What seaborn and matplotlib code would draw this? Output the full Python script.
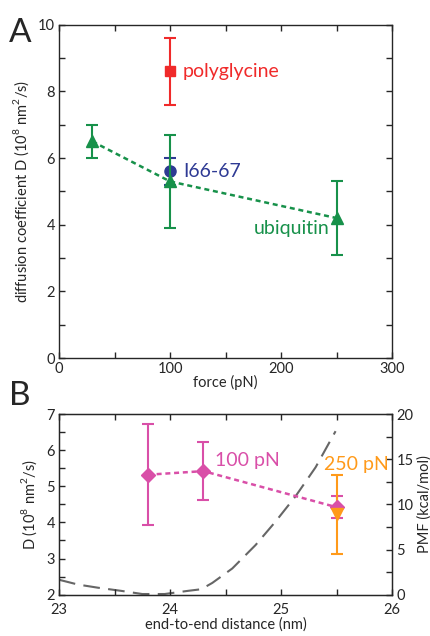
import matplotlib
matplotlib.use("Agg")
import matplotlib.pyplot as plt
import seaborn as sns
import pandas as pd
from matplotlib.ticker import MultipleLocator

# panel A data
ubi_force = [30, 100, 250]
ubi_D = [6.5, 5.3, 4.2]
ubi_err = [0.5, 1.4, 1.1]
gly_force = [100]
gly_D = [8.6]
gly_err = [1.0]
i66_force = [100]
i66_D = [5.6]
i66_err = [0.4]

# panel B data
d100_dist = [23.8, 24.3, 25.5]
d100_D = [5.32, 5.42, 4.42]
d100_err = [1.4, 0.8, 0.3]
d250_dist = [25.5]
d250_D = [4.22]
d250_err = [1.1]
pmf_dist = [23.0, 23.17, 23.35, 23.56, 23.75, 23.95, 24.16, 24.28, 24.38,
            24.56, 24.77, 24.95, 25.13, 25.31, 25.49]
pmf_val = [1.65, 1.12, 0.77, 0.42, 0.07, 0.07, 0.42, 0.6, 1.3,
           2.9, 5.5, 8.1, 10.9, 14.1, 18.1]

sns.set_style("ticks")
plt.rcParams['font.family'] = ['Lato', 'DejaVu Sans']
plt.rcParams['mathtext.fontset'] = 'custom'
plt.rcParams['mathtext.rm'] = 'Lato'

green = '#17914a'
red = '#f02a2a'
blue = '#2e3a94'
pink = '#d94fa8'
orange = '#ff9a1a'
fs = 10.5

fig = plt.figure(figsize=(4.31, 6.36), dpi=100)
ax1 = fig.add_axes([0.137, 0.437, 0.773, 0.524])
ax2 = fig.add_axes([0.137, 0.065, 0.773, 0.284])

# ---- panel A ----
ubi = pd.DataFrame({'force': ubi_force, 'D': ubi_D})
sns.lineplot(data=ubi, x='force', y='D', ax=ax1, color=green, lw=1.8,
             linestyle=(0, (2, 1.5)))
ax1.errorbar(ubi_force, ubi_D, yerr=ubi_err, fmt='^', color=green, ms=8,
             capsize=4, elinewidth=1.5, capthick=1.5)
ax1.errorbar(gly_force, gly_D, yerr=gly_err, fmt='s', color=red, ms=7,
             capsize=4, elinewidth=1.5, capthick=1.5)
ax1.errorbar(i66_force, i66_D, yerr=i66_err, fmt='o', color=blue, ms=8,
             capsize=4, elinewidth=1.5, capthick=1.5, zorder=1)
ax1.text(111, 8.6, 'polyglycine', color=red, fontsize=14, va='center')
ax1.text(112, 5.6, 'I66-67', color=blue, fontsize=14, va='center')
ax1.text(175, 3.9, 'ubiquitin', color=green, fontsize=14, va='center')
ax1.set_xlim(0, 300)
ax1.set_ylim(0, 10)
ax1.xaxis.set_major_locator(MultipleLocator(100))
ax1.xaxis.set_minor_locator(MultipleLocator(50))
ax1.yaxis.set_major_locator(MultipleLocator(2))
ax1.yaxis.set_minor_locator(MultipleLocator(1))
ax1.set_xlabel('force (pN)', fontsize=fs, labelpad=-1)
ax1.set_ylabel('diffusion coefficient D (10$^8$ nm$^2$/s)', fontsize=fs, labelpad=5)
for s in ax1.spines.values():
    s.set_linewidth(1.0)
ax1.tick_params(which='both', direction='in', top=True, right=True,
                length=4, width=1, labelsize=fs, pad=3)
fig.text(0.02, 0.948, 'A', fontsize=24, va='center')

# ---- panel B ----
axr = ax2.twinx()
pmf = pd.DataFrame({'dist': pmf_dist, 'pmf': pmf_val})
sns.lineplot(data=pmf, x='dist', y='pmf', ax=axr, color='#666666', lw=1.5,
             linestyle=(0, (8, 4)))
axr.set_ylim(0, 20)
axr.yaxis.set_major_locator(MultipleLocator(5))
axr.yaxis.set_minor_locator(MultipleLocator(2.5))
axr.set_ylabel('PMF (kcal/mol)', fontsize=fs, labelpad=3)
axr.tick_params(which='both', direction='in', length=4, width=1,
                labelsize=fs, pad=3)
ax2.set_zorder(axr.get_zorder() + 1)
ax2.patch.set_visible(False)

d100 = pd.DataFrame({'dist': d100_dist, 'D': d100_D})
sns.lineplot(data=d100, x='dist', y='D', ax=ax2, color=pink, lw=1.8,
             linestyle=(0, (2, 1.5)))
ax2.errorbar(d100_dist, d100_D, yerr=d100_err, fmt='D', color=pink, ms=7,
             capsize=4, elinewidth=1.5, capthick=1.5)
ax2.errorbar(d250_dist, d250_D, yerr=d250_err, fmt='v', color=orange, ms=8,
             capsize=4, elinewidth=1.5, capthick=1.5)
ax2.text(24.4, 5.72, '100 pN', color=pink, fontsize=14, va='center')
ax2.text(25.39, 5.6, '250 pN', color=orange, fontsize=14, va='center')
ax2.set_xlim(23, 26)
ax2.set_ylim(2, 7)
ax2.xaxis.set_major_locator(MultipleLocator(1))
ax2.xaxis.set_minor_locator(MultipleLocator(0.5))
ax2.yaxis.set_major_locator(MultipleLocator(1))
ax2.yaxis.set_minor_locator(MultipleLocator(0.5))
ax2.set_xlabel('end-to-end distance (nm)', fontsize=fs, labelpad=0)
ax2.set_ylabel('D (10$^8$ nm$^2$/s)', fontsize=fs, labelpad=5)
for s in ax2.spines.values():
    s.set_linewidth(1.0)
ax2.tick_params(which='both', direction='in', top=True, right=False,
                length=4, width=1, labelsize=fs, pad=3)
ax2.tick_params(axis='x', which='both', pad=6)
fig.text(0.02, 0.378, 'B', fontsize=24, va='center')

fig.savefig('out.png', dpi=100)
